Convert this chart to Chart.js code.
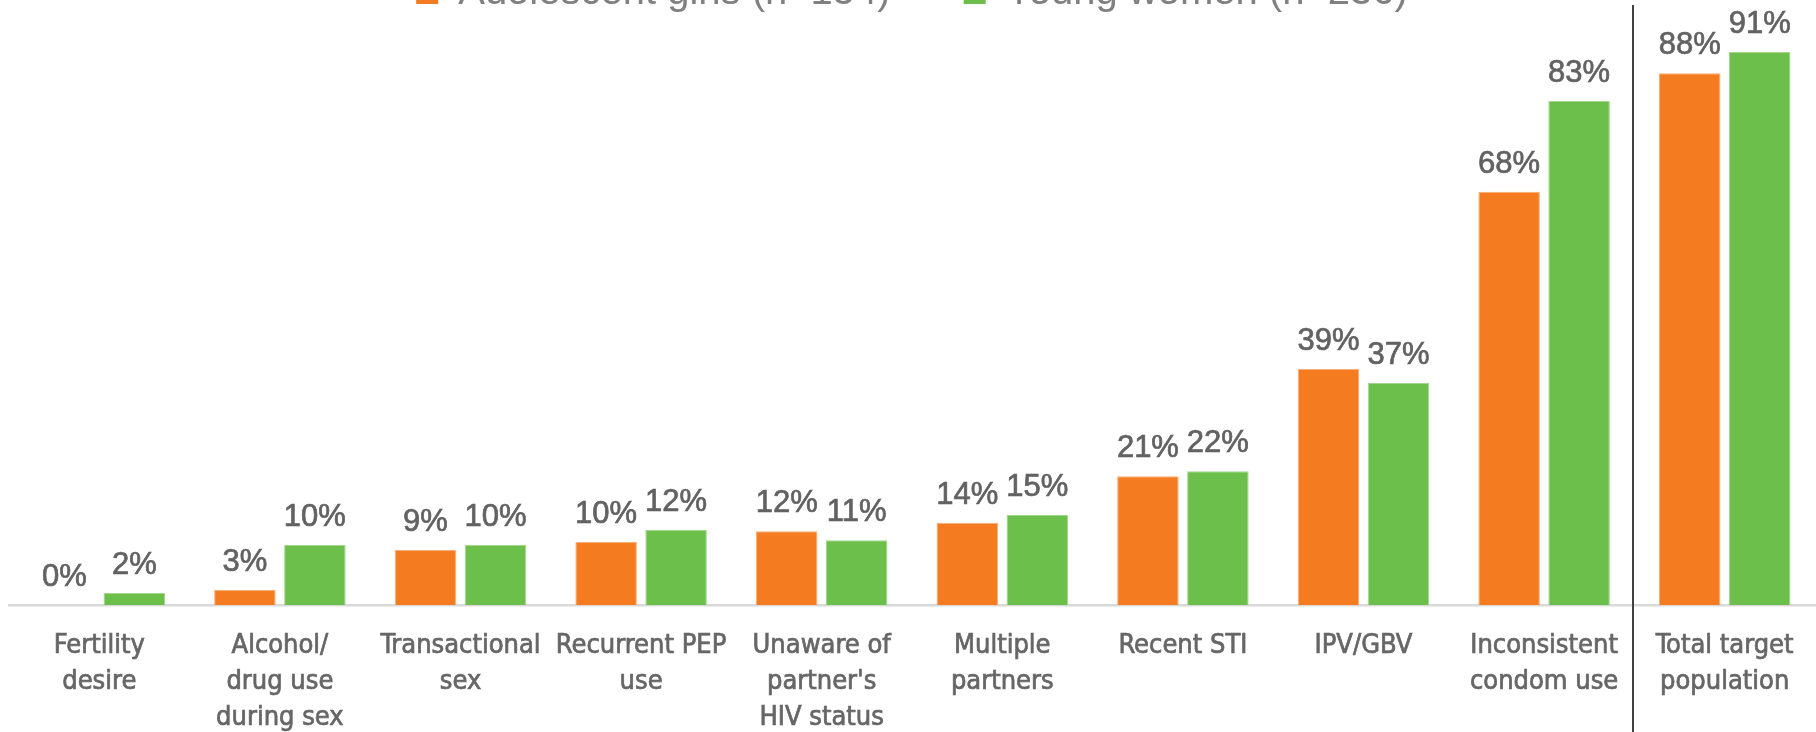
<!DOCTYPE html>
<html>
<head>
<meta charset="utf-8">
<script src="https://cdn.jsdelivr.net/npm/chart.js@4.4.1/dist/chart.umd.min.js"></script>
<style>
html,body{margin:0;padding:0;background:#ffffff;overflow:hidden;width:1816px;height:732px;}
#wrap{position:absolute;left:0;top:-103px;width:1816px;height:835px;}
</style>
</head>
<body>
<div id="wrap"><canvas id="c"></canvas></div>
<script>
// ---- data ----
const categories = [
  ['Fertility', 'desire'],
  ['Alcohol/', 'drug use', 'during sex'],
  ['Transactional', 'sex'],
  ['Recurrent PEP', 'use'],
  ['Unaware of', "partner's", 'HIV status'],
  ['Multiple', 'partners'],
  ['Recent STI'],
  ['IPV/GBV'],
  ['Inconsistent', 'condom use'],
  ['Total target', 'population']
];
const seriesNames = ['Adolescent girls (n=154)', 'Young women (n=236)'];
const adolescentGirls = [0, 2.5, 9.1, 10.4, 12.2, 13.6, 21.3, 39.0, 68.3, 87.9];
const youngWomen = [2.0, 9.9, 9.9, 12.4, 10.7, 14.9, 22.1, 36.7, 83.3, 91.4];
const yMin = 0;
const yMax = 100;

// ---- styles ----
const ORANGE = '#F47B20';
const GREEN = '#6CBF4A';
const PAD_TOP = 3;
const LEGEND_H = 100;

const custom = {
  id: 'custom',
  beforeLayout(chart) {
    const lg = chart.legend;
    if (lg && !lg._patchedFit) {
      const f = lg.fit;
      lg.fit = function () { f.call(this); this.height = LEGEND_H; };
      lg._patchedFit = true;
    }
  },
  afterLayout(chart) {
    const lg = chart.legend;
    if (lg) { lg.bottom = lg.top + 300; lg.height = 300; }
  },
  afterDatasetsDraw(chart) {
    const ctx = chart.ctx;
    ctx.save();
    ctx.font = 'normal 31px "Liberation Sans", Arial, sans-serif';
    ctx.fillStyle = '#626262';
    ctx.strokeStyle = '#626262';
    ctx.lineWidth = 0.7;
    ctx.textAlign = 'center';
    ctx.textBaseline = 'alphabetic';
    chart.data.datasets.forEach((ds, di) => {
      const meta = chart.getDatasetMeta(di);
      meta.data.forEach((bar, i) => {
        const t = Math.round(ds.data[i]) + '%';
        ctx.fillText(t, bar.x, bar.y - 19);
        ctx.strokeText(t, bar.x, bar.y - 19);
      });
    });
    ctx.restore();
  },
  afterDraw(chart) {
    const xs = chart.scales.x;
    const x = Math.round((xs.getPixelForValue(8) + xs.getPixelForValue(9)) / 2) - 1;
    const ctx = chart.ctx;
    ctx.save();
    ctx.strokeStyle = '#404040';
    ctx.lineWidth = 2;
    ctx.beginPath();
    ctx.moveTo(x, PAD_TOP + LEGEND_H + 5);
    ctx.lineTo(x, chart.height);
    ctx.stroke();
    ctx.restore();
  }
};

new Chart(document.getElementById('c'), {
  type: 'bar',
  data: {
    labels: categories,
    datasets: [
      { label: seriesNames[0], data: adolescentGirls, backgroundColor: ORANGE, borderColor: '#F8AE78', borderWidth: 1,
        categoryPercentage: 0.775, barPercentage: 0.879 },
      { label: seriesNames[1], data: youngWomen, backgroundColor: GREEN, borderColor: '#A3D78C', borderWidth: 1,
        categoryPercentage: 0.775, barPercentage: 0.879 }
    ]
  },
  options: {
    responsive: true,
    maintainAspectRatio: false,
    animation: false,
    devicePixelRatio: 1,
    layout: { padding: { left: 9, right: 1, top: PAD_TOP, bottom: 0 } },
    plugins: {
      tooltip: { enabled: false },
      legend: {
        position: 'top',
        labels: {
          font: { family: '"Liberation Sans", Arial, sans-serif', size: 40 },
          color: '#808080',
          boxWidth: 22,
          boxHeight: 22,
          padding: 73,
          generateLabels(chart) {
            return chart.data.datasets.map((ds, i) => ({
              text: ds.label, fillStyle: ds.backgroundColor, strokeStyle: ds.backgroundColor,
              lineWidth: 0, hidden: false, datasetIndex: i, fontColor: '#808080'
            }));
          }
        }
      }
    },
    scales: {
      x: {
        grid: { display: false },
        border: { display: true, color: '#D9D9D9', width: 2.5 },
        ticks: {
          autoSkip: false, maxRotation: 0, minRotation: 0,
          padding: 15,
          color: '#666666',
          textStrokeColor: '#666666',
          textStrokeWidth: 0.7,
          font: { family: '"DejaVu Sans Condensed", "DejaVu Sans", sans-serif', size: 27, lineHeight: 1.34 }
        },
        afterFit(s) { s.height = 127; }
      },
      y: {
        display: false,
        min: yMin,
        max: yMax
      }
    }
  },
  plugins: [custom]
});
</script>
</body>
</html>
